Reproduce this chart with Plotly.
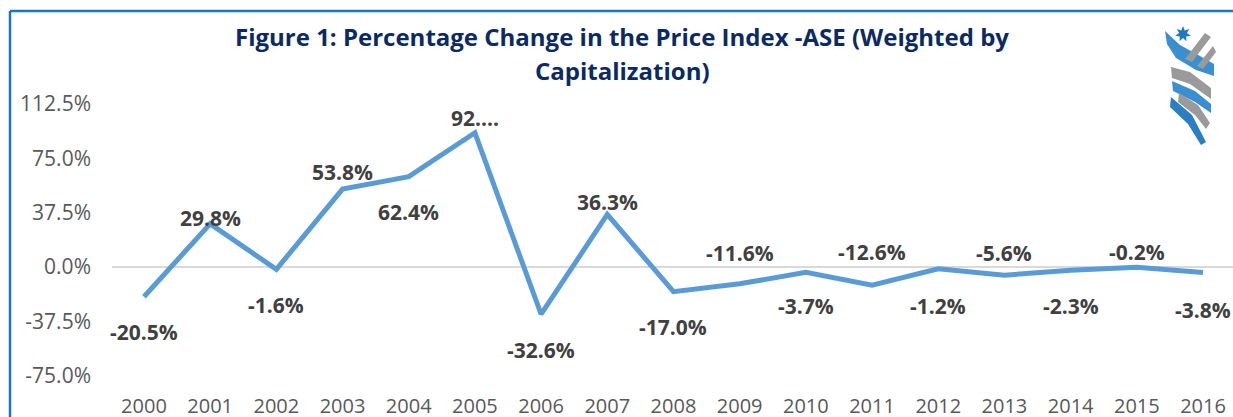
import math
import plotly.graph_objects as go

# Data
years = list(range(2000, 2017))
pct_change = [-20.5, 29.8, -1.6, 53.8, 62.4, 92.7, -32.6, 36.3, -17.0,
              -11.6, -3.7, -12.6, -1.2, -5.6, -2.3, -0.2, -3.8]
label_text = ["-20.5%", "29.8%", "-1.6%", "53.8%", "62.4%", "92....", "-32.6%",
              "36.3%", "-17.0%", "-11.6%", "-3.7%", "-12.6%", "-1.2%", "-5.6%",
              "-2.3%", "-0.2%", "-3.8%"]
y_ticks = [112.5, 75.0, 37.5, 0.0, -37.5, -75.0]
y_tick_text = ["112.5%", "75.0%", "37.5%", "0.0%", "-37.5%", "-75.0%"]

# label offsets (px) above/below each point, as in the Excel chart
label_shift = [-35, 6, -36, 17, -35, 15, -36, 12, -35, 31, -34, 33, -37, 22, -36, 15, -37]

W, H = 1233, 417
L, R, T, B = 112, 0, 96, 26
PW, PH = W - L - R, H - T - B

FONT = "Open Sans"
BLUE_LINE = "#5B9BD5"
FRAME = "#1874C8"


def px(x, y):
    """pixel position on the page -> paper coordinates"""
    return (x - L) / PW, (H - B - y) / PH


def path(points):
    parts = []
    for i, (x, y) in enumerate(points):
        a, b = px(x, y)
        parts.append(("M" if i == 0 else "L") + f"{a:.5f},{b:.5f}")
    return " ".join(parts) + " Z"


fig = go.Figure(
    go.Scatter(
        x=years,
        y=pct_change,
        mode="lines",
        line=dict(color=BLUE_LINE, width=5),
        hoverinfo="skip",
    )
)

for yr, v, txt, sh in zip(years, pct_change, label_text, label_shift):
    fig.add_annotation(
        x=yr, y=v, text=f"<b>{txt}</b>", showarrow=False, yshift=sh,
        font=dict(family=FONT, size=21, color="#404040"),
    )

# title, two centred lines
tx, _ = px(622, 0)
for line, ypix in [("Figure 1: Percentage Change in the Price Index -ASE (Weighted by", 36),
                   ("Capitalization)", 70)]:
    fig.add_annotation(
        x=tx, y=px(0, ypix)[1], xref="paper", yref="paper",
        text=f"<b>{line}</b>", showarrow=False, xanchor="center", yanchor="middle",
        font=dict(family=FONT, size=24, color="#0B2A63"),
    )

shapes = []
# blue frame (top and left edge)
x0, y0 = px(10, 11)
x1, _ = px(W + 5, 11)
_, y1 = px(10, H + 5)
shapes.append(dict(type="line", xref="paper", yref="paper", x0=x0, y0=y0, x1=x1, y1=y0,
                   line=dict(color=FRAME, width=2.5)))
shapes.append(dict(type="line", xref="paper", yref="paper", x0=x0, y0=y0, x1=x0, y1=y1,
                   line=dict(color=FRAME, width=2.5)))

# rough sketch of the ASE logo
logo = [
    ("#3A8FD0", [(1165, 31), (1180, 45), (1200, 56), (1214, 64), (1214, 76),
                 (1196, 70), (1176, 58), (1167, 44)]),
    ("#9A9A9A", [(1205, 33), (1211, 37), (1192, 62), (1185, 59)]),
    ("#9A9A9A", [(1213, 46), (1216, 52), (1203, 69), (1197, 66)]),
    ("#9A9A9A", [(1171, 67), (1190, 72), (1211, 88), (1211, 99), (1190, 84), (1172, 78)]),
    ("#3A8FD0", [(1172, 81), (1195, 91), (1211, 104), (1211, 113), (1195, 102), (1173, 91)]),
    ("#9A9A9A", [(1179, 93), (1198, 105), (1210, 123), (1206, 129), (1195, 115), (1178, 102)]),
    ("#2A7EC4", [(1171, 97), (1192, 115), (1206, 142), (1201, 145), (1188, 124), (1170, 107)]),
]
for color, pts in logo:
    shapes.append(dict(type="path", xref="paper", yref="paper", path=path(pts),
                       fillcolor=color, line=dict(width=0)))

# seven-pointed star
cx, cy = 1183, 34
star = []
for k in range(14):
    r = 8 if k % 2 == 0 else 4
    ang = -math.pi / 2 + k * math.pi / 7
    star.append((cx + r * math.cos(ang), cy + r * math.sin(ang)))
shapes.append(dict(type="path", xref="paper", yref="paper", path=path(star),
                   fillcolor="#1F78C0", line=dict(width=0)))

fig.update_layout(
    width=W,
    height=H,
    margin=dict(l=L, r=R, t=T, b=B, pad=0),
    paper_bgcolor="white",
    plot_bgcolor="white",
    showlegend=False,
    shapes=shapes,
    font=dict(family=FONT, color="#595959"),
    xaxis=dict(
        range=[1999.517, 2016.453],
        tickvals=years,
        ticktext=[str(y) for y in years],
        showgrid=False,
        zeroline=False,
        showline=False,
        ticks="",
        ticklabelstandoff=1,
        automargin=False,
        tickfont=dict(family=FONT, size=20, color="#595959"),
        fixedrange=True,
    ),
    yaxis=dict(
        range=[-85.6, 118.1],
        tickvals=y_ticks,
        ticktext=y_tick_text,
        showgrid=False,
        zeroline=True,
        zerolinecolor="#D9D9D9",
        zerolinewidth=2,
        showline=False,
        ticks="",
        ticklabelstandoff=20,
        automargin=False,
        tickfont=dict(family=FONT, size=21, color="#595959"),
        fixedrange=True,
    ),
)

# drop the page's default body margin so the chart sits at the window origin
fig.write_html("out.html", config={"staticPlot": True},
               post_script="document.body.style.margin='0';document.body.style.overflow='hidden';")
